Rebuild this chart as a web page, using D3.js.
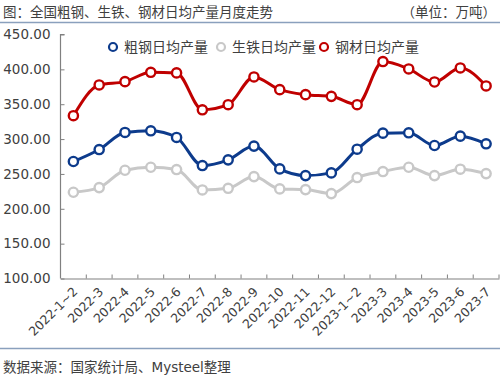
<!DOCTYPE html>
<html><head><meta charset="utf-8">
<script src="https://cdn.jsdelivr.net/npm/d3@7"></script>
<style>
html,body{margin:0;padding:0;background:#fff;}
svg{display:block;font-family:"DejaVu Sans","Noto Sans CJK SC",sans-serif;}
</style></head>
<body><svg id="c" width="500" height="380"></svg>
<script>
const categories = ["2022-1~2","2022-3","2022-4","2022-5","2022-6","2022-7","2022-8","2022-9","2022-10","2022-11","2022-12","2023-1~2","2023-3","2023-4","2023-5","2023-6","2023-7"];
const crudeSteel = [267.8,285.0,309.5,311.9,302.3,262.0,270.2,289.9,257.2,247.6,251.5,285.5,308.5,309.0,290.8,304.2,293.2];
const pigIron = [223.7,230.4,255.3,259.6,256.3,227.0,229.4,246.2,228.5,227.5,221.8,244.8,253.4,259.6,247.6,256.8,250.5];
const steelProducts = [333.5,377.6,382.4,395.8,394.9,342.0,349.3,389.1,370.9,363.7,361.3,349.3,411.2,400.6,381.9,402.0,376.2];
const seriesNames = ["粗钢日均产量","生铁日均产量","钢材日均产量"];
const yTicks = [100,150,200,250,300,350,400,450];
const colors = ["#0d3b8c","#c8c8c8","#c00000"];

const svg = d3.select("#c");
const textColor = "#404040";
const axisColor = "#808080";

svg.append("text").attr("x",3).attr("y",17).attr("font-size",13.5).attr("fill",textColor)
  .text("图：全国粗钢、生铁、钢材日均产量月度走势");
svg.append("text").attr("x",496).attr("y",17).attr("text-anchor","end").attr("font-size",13.5).attr("fill",textColor)
  .text("（单位：万吨）");
svg.append("line").attr("x1",0).attr("x2",500).attr("y1",22.5).attr("y2",22.5).attr("stroke","#8aa0bd").attr("stroke-width",1.5);
svg.append("line").attr("x1",0).attr("x2",500).attr("y1",348.5).attr("y2",348.5).attr("stroke","#8aa0bd").attr("stroke-width",1.5);
svg.append("text").attr("x",3).attr("y",372).attr("font-size",13.5).attr("fill",textColor)
  .text("数据来源：国家统计局、Mysteel整理");

const x = d3.scaleBand().domain(categories).range([60.5, 499]);
const y = d3.scaleLinear().domain([100,450]).range([278.5, 34.5]);

const yAxis = d3.axisRight(y).tickValues(yTicks).tickSize(4).tickFormat(d=>d.toFixed(2));
const gy = svg.append("g").attr("transform","translate(60.5,0)").call(yAxis);
gy.select(".domain").attr("stroke",axisColor).attr("stroke-width",1.2).attr("d","M4,34.5H0V278.5");
gy.selectAll(".tick line").attr("stroke",axisColor);
gy.selectAll(".tick text").attr("x",-10).attr("text-anchor","end").attr("font-size",13.5).attr("fill",textColor).attr("font-family","DejaVu Sans");

const xAxis = d3.axisBottom(x).tickSize(0).tickSizeOuter(0);
const gx = svg.append("g").attr("transform","translate(0,278.5)").call(xAxis);
gx.select(".domain").attr("stroke",axisColor).attr("stroke-width",1.2);
gx.selectAll(".tick text").attr("font-size",12.5).attr("fill",textColor).attr("font-family","DejaVu Sans")
  .attr("text-anchor","end").attr("dy",0).attr("y",0)
  .attr("transform","translate(5,14) rotate(-45)");
gx.selectAll(".bnd").data(categories).enter().append("line")
  .attr("x1",(d,i)=>x(categories[0]) + x.step()*(i+1)).attr("x2",(d,i)=>x(categories[0]) + x.step()*(i+1))
  .attr("y1",0).attr("y2",-4).attr("stroke",axisColor).attr("stroke-width",1);

const data = [crudeSteel, pigIron, steelProducts];
const line = d3.line().x((d,i)=>x(categories[i])+x.bandwidth()/2).y(d=>y(d)).curve(d3.curveMonotoneX);
const order = [1,0,2];
order.forEach(k=>{
  const g = svg.append("g");
  g.append("path").attr("d",line(data[k])).attr("fill","none").attr("stroke",colors[k]).attr("stroke-width",3);
  g.selectAll("circle").data(data[k]).enter().append("circle")
    .attr("cx",(d,i)=>x(categories[i])+x.bandwidth()/2).attr("cy",d=>y(d)).attr("r",4.6)
    .attr("fill","#fff").attr("stroke",colors[k]).attr("stroke-width",2.4);
});

const legendX = [113,221,324];
seriesNames.forEach((n,k)=>{
  svg.append("circle").attr("cx",legendX[k]).attr("cy",47).attr("r",4).attr("fill","#fff")
    .attr("stroke",colors[k]).attr("stroke-width",2.2);
  svg.append("text").attr("x",legendX[k]+11).attr("y",52).attr("font-size",14).attr("fill",textColor)
    .attr("font-family","Noto Sans CJK SC").text(n);
});
</script></body></html>
